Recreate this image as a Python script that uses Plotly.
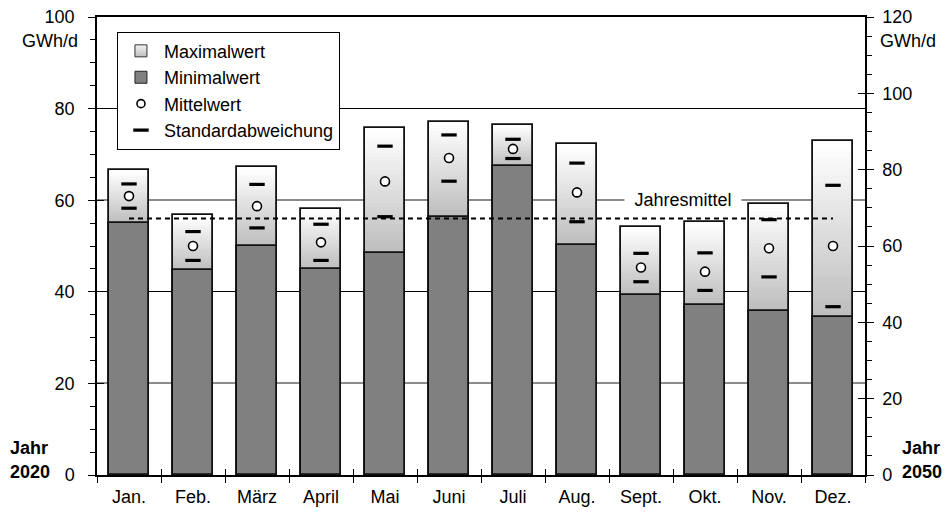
import plotly.graph_objects as go

# Monthly values in GWh/d (left axis, year 2020)
months = ["Jan.", "Feb.", "März", "April", "Mai", "Juni", "Juli", "Aug.", "Sept.", "Okt.", "Nov.", "Dez."]
max_vals = [66.6, 56.8, 67.2, 58.1, 75.8, 77.1, 76.5, 72.3, 54.1, 55.2, 59.1, 73.0]
min_vals = [55.1, 44.7, 49.9, 45.0, 48.5, 56.4, 67.5, 50.2, 39.4, 37.1, 35.9, 34.4]
mean_vals = [60.9, 50.0, 58.7, 50.8, 64.1, 69.2, 71.2, 61.7, 45.3, 44.4, 49.5, 50.0]
sd_vals = [2.65, 3.15, 4.75, 3.95, 7.7, 5.05, 2.1, 6.4, 3.1, 4.1, 6.25, 13.25]
annual_mean = 56.0

FONT = "Arial, Liberation Sans, sans-serif"
FS = 18
BAR_W = 0.64
N_SLICES = 30
LINE = "#111111"

fig = go.Figure()

# Max-min span: vertical gradient built from stacked slices (light grey -> white)
span = [mx - mn for mx, mn in zip(max_vals, min_vals)]
for k in range(N_SLICES):
    t = k / (N_SLICES - 1)
    g = int(round(190 + (255 - 190) * t))
    fig.add_trace(go.Bar(
        x=months,
        y=[s / N_SLICES * 1.02 for s in span],
        base=[mn + s * k / N_SLICES for mn, s in zip(min_vals, span)],
        width=BAR_W,
        marker=dict(color=f"rgb({g},{g},{g})", line=dict(width=0)),
        showlegend=False, hoverinfo="skip",
    ))

# Outline of the full bar (0 .. maximum)
fig.add_trace(go.Bar(
    x=months, y=max_vals, width=BAR_W,
    marker=dict(color="rgba(0,0,0,0)", line=dict(color=LINE, width=1.8)),
    showlegend=False, hoverinfo="skip",
))

# Minimum part
fig.add_trace(go.Bar(
    x=months, y=min_vals, width=BAR_W, name="Minimalwert",
    marker=dict(color="#808080", line=dict(color=LINE, width=1.8)),
    showlegend=False,
))

# Annual mean (dotted)
fig.add_trace(go.Scatter(
    x=[months[0], months[-1]], y=[annual_mean, annual_mean], mode="lines",
    line=dict(color="black", width=2, dash="5px,4px"),
    showlegend=False, hoverinfo="skip",
))

# Standard deviation marks (mean +/- sd)
sd_upper = [m + s for m, s in zip(mean_vals, sd_vals)]
sd_lower = [m - s for m, s in zip(mean_vals, sd_vals)]
fig.add_trace(go.Scatter(
    x=months + months, y=sd_upper + sd_lower, mode="markers",
    marker=dict(symbol="line-ew", size=11, line=dict(color="black", width=3.2)),
    showlegend=False,
))

# Mean markers
fig.add_trace(go.Scatter(
    x=months, y=mean_vals, mode="markers",
    marker=dict(symbol="circle", size=9, color="white", line=dict(color="black", width=1.6)),
    showlegend=False,
))

# Empty helper traces so that the overlay axes (right scale, grids, crossing ticks) get drawn
for xa, ya in [("x", "y2"), ("x", "y3"), ("x", "y4"), ("x", "y5"), ("x2", "y")]:
    fig.add_trace(go.Scatter(x=[None], y=[None], xaxis=xa, yaxis=ya, mode="markers",
                             showlegend=False, hoverinfo="skip"))

# Legend entries
fig.add_trace(go.Scatter(
    x=[None], y=[None], mode="markers", name="Maximalwert", legendgroup="a",
    marker=dict(symbol="square", size=12, color="#f4f4f4",
                gradient=dict(type="vertical", color="#bdbdbd"),
                line=dict(color="#333", width=1)),
))
fig.add_trace(go.Scatter(
    x=[None], y=[None], mode="markers", name="Minimalwert", legendgroup="b",
    marker=dict(symbol="square", size=12, color="#808080", line=dict(color="#222", width=1)),
))
fig.add_trace(go.Scatter(
    x=[None], y=[None], mode="markers", name="Mittelwert", legendgroup="c",
    marker=dict(symbol="circle", size=8, color="white", line=dict(color="black", width=1.6)),
))
fig.add_trace(go.Scatter(
    x=[None], y=[None], mode="markers", name="Standardabweichung", legendgroup="d",
    marker=dict(symbol="line-ew", size=11, line=dict(color="black", width=3.2)),
))

tickfont = dict(family=FONT, size=FS, color="black")

fig.update_layout(
    width=948, height=515,
    margin=dict(l=97, r=83, t=17, b=40),
    paper_bgcolor="white", plot_bgcolor="white",
    barmode="overlay", bargap=0,
    font=dict(family=FONT, size=FS, color="black"),
    showlegend=True,
    legend=dict(
        x=0.026, y=0.968, xanchor="left", yanchor="top",
        bgcolor="white", bordercolor="black", borderwidth=1,
        font=dict(family=FONT, size=FS, color="black"),
        tracegroupgap=0, itemwidth=36, entrywidth=240,
    ),
    xaxis=dict(
        type="category", categoryorder="array", categoryarray=months,
        range=[-0.5, 11.5], showgrid=False, zeroline=False, automargin=False,
        showline=True, linecolor="black", linewidth=1.5, mirror=True,
        ticks="outside", tickson="boundaries", ticklen=6, tickcolor="black",
        tickfont=tickfont, ticklabelstandoff=5,
    ),
    xaxis2=dict(
        overlaying="x", anchor="y", type="linear", range=[-0.5, 11.5], automargin=False,
        tick0=-0.5, dtick=1, ticks="inside", ticklen=6, tickcolor="black",
        showticklabels=False, showgrid=False, zeroline=False, showline=False,
    ),
    yaxis=dict(
        range=[0, 100], tick0=0, dtick=20, showgrid=False, zeroline=False, automargin=False,
        showline=True, linecolor="black", linewidth=1.5,
        ticks="outside", ticklen=7, tickcolor="black",
        minor=dict(dtick=5, ticks="outside", ticklen=5, tickcolor="black", showgrid=False),
        tickfont=tickfont, ticklabelstandoff=10,
    ),
    yaxis3=dict(
        overlaying="y", range=[0, 100], tick0=0, dtick=40, automargin=False,
        showgrid=True, gridcolor="black", gridwidth=1,
        ticks="inside", ticklen=7, tickcolor="black",
        showticklabels=False, zeroline=False, showline=False,
    ),
    yaxis4=dict(
        overlaying="y", range=[0, 100], tick0=20, dtick=40, automargin=False,
        showgrid=True, gridcolor="#8a8a8a", gridwidth=1.5,
        ticks="inside", ticklen=7, tickcolor="black",
        showticklabels=False, zeroline=False, showline=False,
    ),
    yaxis2=dict(
        overlaying="y", side="right", anchor="x", range=[0, 120], tick0=0, dtick=20,
        showgrid=False, zeroline=False, showline=True, linecolor="black", linewidth=1.5,
        automargin=False,
        ticks="outside", ticklen=7, tickcolor="black",
        minor=dict(dtick=5, ticks="outside", ticklen=5, tickcolor="black", showgrid=False),
        tickfont=tickfont, ticklabelstandoff=5,
    ),
    yaxis5=dict(
        overlaying="y", side="right", anchor="x", range=[0, 120], tick0=0, dtick=20,
        ticks="inside", ticklen=7, tickcolor="black", automargin=False,
        showticklabels=False, showgrid=False, zeroline=False, showline=False,
    ),
)

ann_font = dict(family=FONT, size=FS, color="black")
fig.add_annotation(xref="paper", yref="paper", x=-0.022, y=0.9476, xanchor="right",
                   yanchor="middle", text="GWh/d", showarrow=False, font=ann_font)
fig.add_annotation(xref="paper", yref="paper", x=1.0169, y=0.9476, xanchor="left",
                   yanchor="middle", text="GWh/d", showarrow=False, font=ann_font)
fig.add_annotation(xref="paper", yref="paper", x=-0.1159, y=0.059, xanchor="left",
                   yanchor="middle", text="<b>Jahr</b>", showarrow=False, font=ann_font)
fig.add_annotation(xref="paper", yref="paper", x=-0.1159, y=0.0066, xanchor="left",
                   yanchor="middle", text="<b>2020</b>", showarrow=False, font=ann_font)
fig.add_annotation(xref="paper", yref="paper", x=1.046, y=0.059, xanchor="left",
                   yanchor="middle", text="<b>Jahr</b>", showarrow=False, font=ann_font)
fig.add_annotation(xref="paper", yref="paper", x=1.045, y=0.0066, xanchor="left",
                   yanchor="middle", text="<b>2050</b>", showarrow=False, font=ann_font)
fig.add_annotation(xref="x", yref="y", x=8.66, y=60, text="Jahresmittel",
                   showarrow=False, font=ann_font, bgcolor="white", width=114, borderpad=1)

fig.write_html("out.html")
